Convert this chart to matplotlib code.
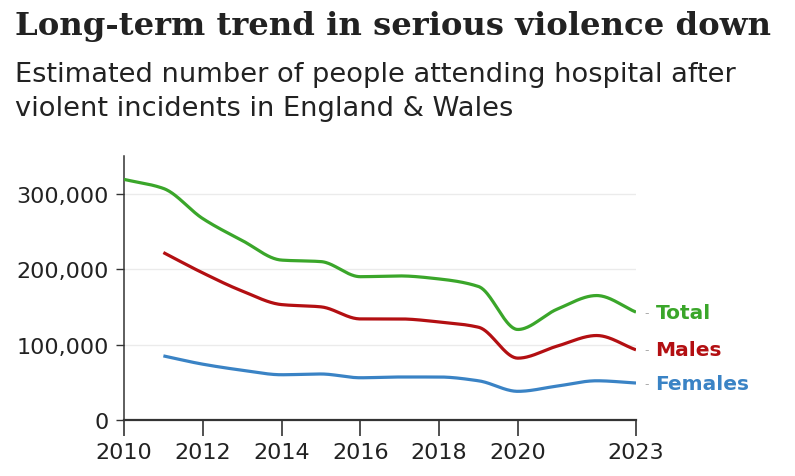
import numpy as np
import matplotlib
matplotlib.use('Agg')
import matplotlib.pyplot as plt
from matplotlib.ticker import FuncFormatter

years = [2010, 2011, 2012, 2013, 2014, 2015, 2016, 2017, 2018, 2019, 2020, 2021, 2022, 2023]
total = [319000, 307000, 267000, 238000, 212000, 210000, 190000, 191000, 187000, 177000, 120000, 147000, 165000, 143000]
years_mf = years[1:]
males = [222000, 195000, 171000, 153000, 150000, 134000, 134000, 130000, 123000, 82000, 98000, 112000, 93000]
females = [85000, 74000, 66000, 60000, 61000, 56000, 57000, 57000, 52000, 38000, 45000, 52000, 49000]
xticks = [2010, 2012, 2014, 2016, 2018, 2020, 2023]
yticks = [0, 100000, 200000, 300000]

GREEN = '#3aa62a'
RED = '#b30f12'
BLUE = '#3a83c5'
TEXT = '#222222'


def monotone(x, y, n=40):
    # monotone cubic (Fritsch-Carlson) just for drawing a smooth line through the points
    x = np.asarray(x, float)
    y = np.asarray(y, float)
    h = np.diff(x)
    d = np.diff(y) / h
    m = np.zeros_like(y)
    m[0], m[-1] = d[0], d[-1]
    for i in range(1, len(y) - 1):
        if d[i - 1] * d[i] <= 0:
            m[i] = 0
        else:
            w1 = 2 * h[i] + h[i - 1]
            w2 = h[i] + 2 * h[i - 1]
            m[i] = (w1 + w2) / (w1 / d[i - 1] + w2 / d[i])
    xs, ys = [], []
    for i in range(len(x) - 1):
        t = np.linspace(0, 1, n, endpoint=False)
        h00 = 2 * t**3 - 3 * t**2 + 1
        h10 = t**3 - 2 * t**2 + t
        h01 = -2 * t**3 + 3 * t**2
        h11 = t**3 - t**2
        xs.append(x[i] + t * h[i])
        ys.append(h00 * y[i] + h10 * h[i] * m[i] + h01 * y[i + 1] + h11 * h[i] * m[i + 1])
    xs.append([x[-1]])
    ys.append([y[-1]])
    return np.concatenate(xs), np.concatenate(ys)


plt.rcParams['font.family'] = ['DejaVu Sans']

fig = plt.figure(figsize=(7.95, 4.77), dpi=100)
ax = fig.add_axes([124 / 795, 1 - 421 / 477, (636 - 124) / 795, (421 - 157) / 477])

for x, y, c in [(years, total, GREEN), (years_mf, males, RED), (years_mf, females, BLUE)]:
    xs, ys = monotone(x, y)
    ax.plot(xs, ys, color=c, lw=2.3, solid_capstyle='butt', zorder=3)

ax.set_xlim(2010, 2023)
ax.set_ylim(0, 350000)
ax.set_xticks(xticks)
ax.set_yticks(yticks)
ax.yaxis.set_major_formatter(FuncFormatter(lambda v, p: f'{int(v):,}'))
for v in yticks[1:]:
    ax.axhline(v, color='#ebebeb', lw=1, zorder=1)

for s in ['top', 'right']:
    ax.spines[s].set_visible(False)
ax.spines['left'].set_color('#333333')
ax.spines['bottom'].set_color('#333333')
ax.spines['bottom'].set_linewidth(1.6)
ax.spines['left'].set_linewidth(1.1)
ax.tick_params(axis='both', colors='#333333', labelcolor=TEXT, labelsize=16)
ax.tick_params(axis='x', width=1.2, length=11.5, pad=4)
ax.tick_params(axis='y', width=1.0, length=6, pad=5)

labels = [('Total', total[-1], GREEN), ('Males', males[-1], RED), ('Females', females[-1], BLUE)]
for name, v, c in labels:
    ax.annotate('-', xy=(2023, v), xytext=(6, 0), textcoords='offset points', va='center', ha='left',
                color='#aaaaaa', fontsize=9, annotation_clip=False)
    ax.annotate(name, xy=(2023, v), xytext=(14, 0), textcoords='offset points', va='center', ha='left',
                color=c, fontsize=14.5, fontweight='bold', annotation_clip=False)

fig.text(15 / 795, 1 - 35 / 477, 'Long-term trend in serious violence down', fontsize=23.2, fontweight='bold',
         family='DejaVu Serif', color=TEXT, va='baseline', ha='left')
fig.text(15 / 795, 1 - 82 / 477, 'Estimated number of people attending hospital after', fontsize=19.6,
         color=TEXT, va='baseline', ha='left')
fig.text(15 / 795, 1 - 116 / 477, 'violent incidents in England & Wales', fontsize=19.6,
         color=TEXT, va='baseline', ha='left')

fig.savefig('out.png', dpi=100)
